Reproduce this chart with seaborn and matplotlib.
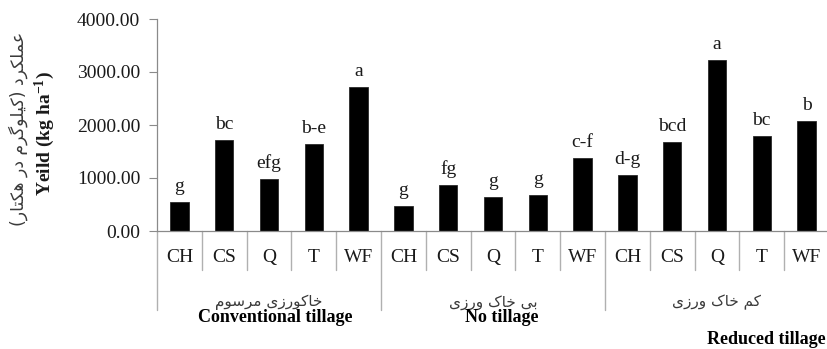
import numpy as np
import pandas as pd
import matplotlib
matplotlib.use("Agg")
import matplotlib.pyplot as plt
import matplotlib.transforms as mtransforms
import seaborn as sns

# ---- data -------------------------------------------------------------
tillage_fa = ["خاکورزی مرسوم", "بی خاک ورزی", "کم خاک ورزی"]
tillage_en = ["Conventional tillage", "No tillage", "Reduced tillage"]
crops = ["CH", "CS", "Q", "T", "WF"]
yield_conventional = [540, 1720, 980, 1640, 2720]
yield_no_till = [470, 860, 650, 680, 1380]
yield_reduced = [1060, 1680, 3220, 1800, 2080]
letters_conventional = ["g", "bc", "efg", "b-e", "a"]
letters_no_till = ["g", "fg", "g", "g", "c-f"]
letters_reduced = ["d-g", "bcd", "a", "bc", "b"]
yticks = [0, 1000, 2000, 3000, 4000]
ylabel_fa = "عملکرد (کیلوگرم در هکتار)"
ylabel_en = "Yeild (kg ha$^{-1}$)"

# ---- minimal Persian shaping (matplotlib has no complex text layout) ----
# isolated, final, initial, medial presentation forms
FORMS = {
    "ا": ("\uFE8D", "\uFE8E", None, None),
    "ب": ("\uFE8F", "\uFE90", "\uFE91", "\uFE92"),
    "ت": ("\uFE95", "\uFE96", "\uFE97", "\uFE98"),
    "خ": ("\uFEA5", "\uFEA6", "\uFEA7", "\uFEA8"),
    "د": ("\uFEA9", "\uFEAA", None, None),
    "ر": ("\uFEAD", "\uFEAE", None, None),
    "ز": ("\uFEAF", "\uFEB0", None, None),
    "س": ("\uFEB1", "\uFEB2", "\uFEB3", "\uFEB4"),
    "ع": ("\uFEC9", "\uFECA", "\uFECB", "\uFECC"),
    "ل": ("\uFEDD", "\uFEDE", "\uFEDF", "\uFEE0"),
    "م": ("\uFEE1", "\uFEE2", "\uFEE3", "\uFEE4"),
    "ه": ("\uFEE9", "\uFEEA", "\uFEEB", "\uFEEC"),
    "و": ("\uFEED", "\uFEEE", None, None),
    "ی": ("\uFBFC", "\uFBFD", "\uFBFE", "\uFBFF"),
    "ک": ("\uFB8E", "\uFB8F", "\uFB90", "\uFB91"),
    "گ": ("\uFB92", "\uFB93", "\uFB94", "\uFB95"),
}
MIRROR = {"(": ")", ")": "("}


def shape_fa(text):
    out = []
    for i, c in enumerate(text):
        if c == "\u200c":
            continue
        if c not in FORMS:
            out.append(MIRROR.get(c, c))
            continue
        prev = text[i - 1] if i > 0 else None
        nxt = text[i + 1] if i + 1 < len(text) else None
        can_next = FORMS[c][2] is not None
        jp = prev in FORMS and FORMS[prev][2] is not None
        jn = can_next and nxt in FORMS
        if jp and jn:
            out.append(FORMS[c][3])
        elif jp:
            out.append(FORMS[c][1])
        elif jn:
            out.append(FORMS[c][2])
        else:
            out.append(FORMS[c][0])
    return "".join(reversed(out))


# ---- table ------------------------------------------------------------
values = [yield_conventional, yield_no_till, yield_reduced]
letters = [letters_conventional, letters_no_till, letters_reduced]
rows = []
for g, name in enumerate(tillage_en):
    for c, crop in enumerate(crops):
        rows.append({"slot": f"{name}|{crop}", "crop": crop,
                     "tillage": name, "yield": values[g][c],
                     "letter": letters[g][c]})
df = pd.DataFrame(rows)

# ---- figure -----------------------------------------------------------
sns.set_theme(style="white")
plt.rcParams["font.family"] = ["Liberation Serif", "DejaVu Sans"]
plt.rcParams["mathtext.fontset"] = "custom"
plt.rcParams["mathtext.rm"] = "Liberation Serif:bold"
plt.rcParams["mathtext.it"] = "Liberation Serif:bold"
plt.rcParams["mathtext.bf"] = "Liberation Serif:bold"

fig = plt.figure(figsize=(8.27, 3.49), dpi=100)
ax = fig.add_axes([157 / 827, 118 / 349, 672 / 827, 212 / 349])

sns.barplot(data=df, x="slot", y="yield", order=df["slot"].tolist(),
            color="black", width=0.41, edgecolor="#2a2a2a", linewidth=0.6,
            saturation=1, ax=ax, errorbar=None)

ax.set_xlim(-0.5, len(df) - 0.5)
ax.set_ylim(0, 4000)
ax.set_yticks(yticks)
ax.set_yticklabels([f"{v:.2f}" for v in yticks], fontsize=14, color="#1a1a1a")
ax.tick_params(axis="y", direction="out", length=6, width=0.8, color="#8a8a8a",
               left=True, pad=6)
ax.tick_params(axis="x", length=0, labelbottom=False)
ax.set_xlabel("")
ax.set_ylabel("")
for side in ("top", "right"):
    ax.spines[side].set_visible(False)
for side in ("left", "bottom"):
    ax.spines[side].set_color("#8a8a8a")
    ax.spines[side].set_linewidth(0.9)

# significance letters above bars
for patch, lab in zip(ax.patches, df["letter"]):
    ax.annotate(lab, (patch.get_x() + patch.get_width() / 2, patch.get_height()),
                xytext=(0, 5), textcoords="offset points", ha="center",
                va="bottom", fontsize=14, color="#1a1a1a")

# category table under the axis
trans = mtransforms.blended_transform_factory(ax.transData, ax.transAxes)
n = len(df)
for i in range(n + 1):
    x = i - 0.5
    long_line = (i % len(crops) == 0)
    y_end = -0.373 if long_line else -0.184
    ax.plot([x, x], [0, y_end], transform=trans, color="#b0b0b0",
            lw=1.0, clip_on=False)
for i, crop in enumerate(df["crop"]):
    ax.text(i, -0.123, crop, transform=trans, ha="center", va="center",
            fontsize=14, color="#1a1a1a")
for g, name in enumerate(tillage_fa):
    center = g * len(crops) + (len(crops) - 1) / 2
    ax.text(center, -0.335, shape_fa(name), transform=trans, ha="center",
            va="center", fontsize=11, color="#3a3a3a",
            family=["DejaVu Sans"])

# English group names
fig.text(275 / 827, 1 - 318 / 349, tillage_en[0], ha="center", va="center",
         fontsize=13, fontweight="bold", color="black")
fig.text(502 / 827, 1 - 318 / 349, tillage_en[1], ha="center", va="center",
         fontsize=13, fontweight="bold", color="black")
fig.text(766 / 827, 1 - 340 / 349, tillage_en[2], ha="center", va="center",
         fontsize=13, fontweight="bold", color="black")

# y axis title in two lines
fig.text(18 / 827, 1 - 129 / 349, shape_fa(ylabel_fa), rotation=90,
         ha="center", va="center", fontsize=12.5, color="#3a3a3a",
         family=["DejaVu Sans"])
fig.text(45 / 827, 1 - 134 / 349, ylabel_en, rotation=90, ha="center",
         va="center", fontsize=14, fontweight="bold", color="#1a1a1a")

fig.savefig("out.png", dpi=100)
